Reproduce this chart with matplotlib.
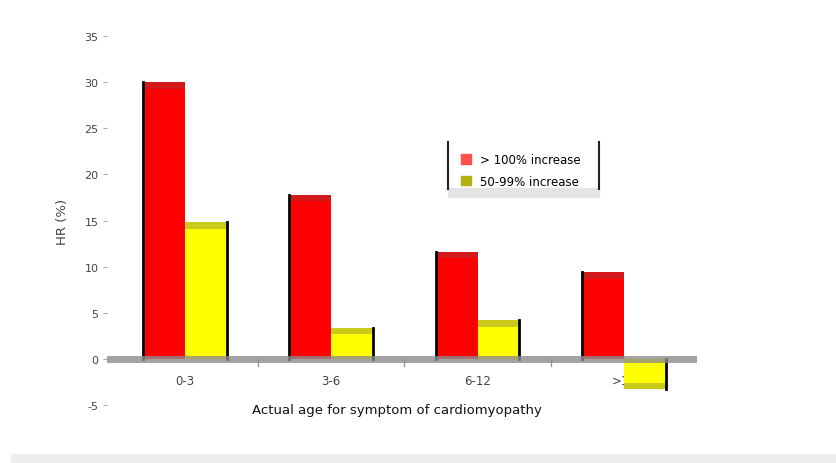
import matplotlib
matplotlib.use("Agg")
import matplotlib.pyplot as plt
import numpy as np

categories = ["0-3", "3-6", "6-12", ">12"]
series_names = ["> 100% increase", "50-99% increase"]
red_values = [30.0, 17.8, 11.6, 9.4]
yellow_values = [14.8, 3.4, 4.2, -3.3]
y_ticks = [-5, 0, 5, 10, 15, 20, 25, 30, 35]
y_label = "HR (%)"
x_label = "Actual age for symptom of cardiomyopathy"

fig = plt.figure(figsize=(8.36, 4.64), dpi=100)
ax = fig.add_axes([0.128, 0.125, 0.706, 0.795])

x = np.arange(len(categories))
w = 0.286
red_bars = ax.bar(x - w / 2, red_values, w, color="#ff0000", zorder=2)
yel_bars = ax.bar(x + w / 2, yellow_values, w, color="#ffff00", zorder=2)

cap = 0.7
for b, v in zip(red_bars, red_values):
    ax.bar(b.get_x() + b.get_width() / 2, cap, b.get_width(), bottom=v - cap,
           color="#b03030", alpha=0.55, zorder=3)
    ax.plot([b.get_x(), b.get_x()], [0, v], color="black", lw=2, zorder=3)
for b, v in zip(yel_bars, yellow_values):
    ax.bar(b.get_x() + b.get_width() / 2, np.sign(v) * cap, b.get_width(), bottom=v - np.sign(v) * cap,
           color="#a0a030", alpha=0.55, zorder=3)
    ax.plot([b.get_x() + b.get_width(), b.get_x() + b.get_width()], [0, v], color="black", lw=2, zorder=3)

ax.axhline(0, color="#8c8c8c", lw=5, alpha=0.8, zorder=4)

ax.set_xlim(-0.53, 3.5)
ax.set_ylim(-5, 35)
ax.set_yticks(y_ticks)
ax.set_yticklabels([str(t) for t in y_ticks], fontsize=8, color="#444444")
ax.set_xticks([])
for xi, c in zip(x, categories):
    ax.text(xi, -2.3, c, ha="center", va="center", fontsize=8.5, color="#444444", zorder=1)
ax.text(1.45, -5.5, x_label, ha="center", va="center", fontsize=9.5, color="#111111",
        clip_on=False)
ax.tick_params(axis="y", length=3, color="#aaaaaa", pad=3)
for xs in [0.5, 1.5, 2.5]:
    ax.plot([xs, xs], [0, -0.8], color="#999999", lw=1, zorder=1, clip_on=False)
for s in ax.spines.values():
    s.set_visible(False)
ax.set_ylabel(y_label, fontsize=9.5, color="#444444", labelpad=8)
ax.yaxis.set_label_coords(-0.065, 0.5)

handles = [plt.Rectangle((0, 0), 1, 1, color="#ff5050"),
           plt.Rectangle((0, 0), 1, 1, color="#b0b010")]
leg = fig.legend(handles, series_names, loc="upper left",
                 bbox_to_anchor=(453 / 836, 1 - 146 / 464), fontsize=8.5,
                 frameon=False, handlelength=0.8, handleheight=0.9,
                 labelspacing=0.7, borderpad=0.2)
for xp in [448, 599]:
    fig.add_artist(plt.Line2D([xp / 836, xp / 836], [1 - 143 / 464, 1 - 190 / 464],
                              color="#222222", lw=1.5, transform=fig.transFigure))
fig.patches.append(plt.Rectangle((448 / 836, 1 - 198 / 464), 151 / 836, 9 / 464,
                                 transform=fig.transFigure, color="#e4e4e4", zorder=0))

fig.patches.append(plt.Rectangle((0.013, 0.0), 0.987, 0.02, transform=fig.transFigure,
                                 color="#eeeeee", zorder=0))

fig.savefig("out.png", dpi=100)
